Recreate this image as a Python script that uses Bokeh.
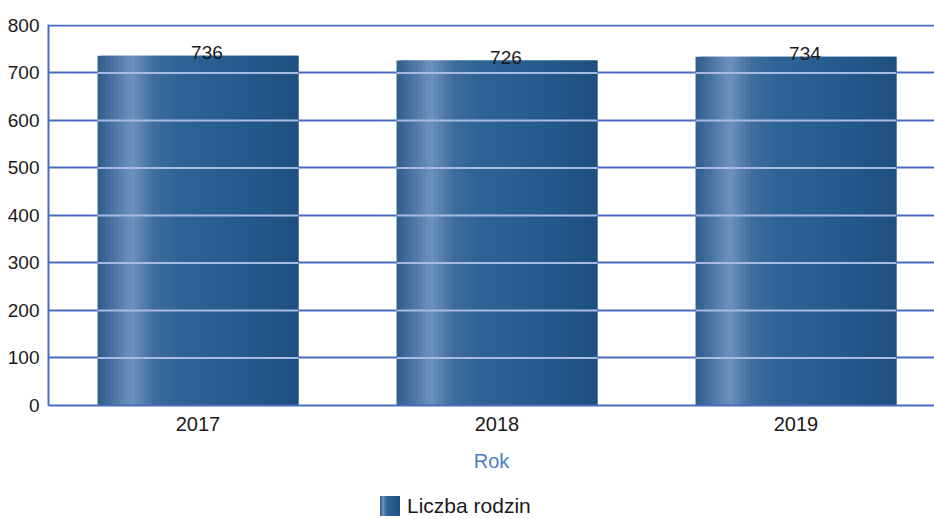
import numpy as np
from bokeh.plotting import figure
from bokeh.models import Range1d, FixedTicker, Div
from bokeh.layouts import column
from bokeh.core.properties import value
from bokeh.embed import file_html
from bokeh.resources import INLINE

years = [2017, 2018, 2019]
values = [736, 726, 734]
value_labels = ["736", "726", "734"]
y_ticks = [0, 100, 200, 300, 400, 500, 600, 700, 800]
x_tick_labels = {2017: "2017", 2018: "2018", 2019: "2019"}
series_name = "Liczba rodzin"
x_title = "Rok"

FONT = "Liberation Sans"
GRID_BLUE = "#4a6cc0"

p = figure(width=934, height=492, output_backend="svg", toolbar_location=None,
           x_range=Range1d(2016.5, 2016.5 + 886 / 299), y_range=Range1d(0, 802),
           min_border_left=48, min_border_right=0, min_border_top=24, min_border_bottom=87)
p.outline_line_color = None
p.background_fill_color = "white"
p.border_fill_color = "white"

p.xgrid.grid_line_color = None
p.ygrid.grid_line_color = GRID_BLUE
p.ygrid.grid_line_width = 2
p.ygrid.ticker = FixedTicker(ticks=y_ticks)

# gradient bars via strips
bar_w = 0.672
N = 48
stops_t = [0.0, 0.08, 0.17, 0.28, 0.4, 0.6, 0.8, 1.0]
stops_c = ["#2e5d8c", "#4b74a3", "#6e92bd", "#3f6d9e", "#2f6396", "#2a5d90", "#245789", "#1e4f80"]
def hex2rgb(h):
    return np.array([int(h[i:i+2], 16) for i in (1, 3, 5)], dtype=float)
rgb = np.array([hex2rgb(c) for c in stops_c])
strip_w = bar_w / N
for i in range(N):
    t = (i + 0.5) / N
    col = [np.interp(t, stops_t, rgb[:, k]) for k in range(3)]
    color = "#%02x%02x%02x" % tuple(int(round(c)) for c in col)
    left = -bar_w / 2 + i * strip_w
    right = min(left + strip_w * 2, bar_w / 2)
    p.vbar(x=[y + (left + right) / 2 for y in years], top=values, bottom=0,
           width=right - left, fill_color=color, line_color=None)

# light gridlines over bars
for tk in y_ticks[1:]:
    xs = [y for y, v in zip(years, values) if v > tk]
    if xs:
        p.segment(x0=[y - bar_w / 2 for y in xs], x1=[y + bar_w / 2 for y in xs],
                  y0=[tk] * len(xs), y1=[tk] * len(xs), line_color="#a9bbe2", line_width=2)

# value labels
p.text(x=[y + 0.03 for y in years], y=values, text=value_labels, text_align="center",
       text_baseline="bottom", y_offset=3, text_font_size="19px", text_color="#1a1a1a",
       text_font=value(FONT))

# axes
p.yaxis.ticker = FixedTicker(ticks=y_ticks)
p.yaxis.axis_line_color = GRID_BLUE
p.yaxis.axis_line_width = 2
p.yaxis.major_tick_line_color = None
p.yaxis.minor_tick_line_color = None
p.yaxis.major_label_standoff = 3
p.yaxis.major_label_text_font = FONT
p.yaxis.major_label_text_font_size = "19px"
p.yaxis.major_label_text_color = "#1a1a1a"

p.xaxis.ticker = FixedTicker(ticks=years)
p.xaxis.major_label_overrides = x_tick_labels
p.xaxis.axis_line_color = GRID_BLUE
p.xaxis.axis_line_width = 2
p.xaxis.major_tick_line_color = None
p.xaxis.minor_tick_line_color = None
p.xaxis.major_label_standoff = 5
p.xaxis.major_label_text_font = FONT
p.xaxis.major_label_text_font_size = "20px"
p.xaxis.major_label_text_color = "#1a1a1a"
p.xaxis.axis_label = x_title
p.xaxis.axis_label_text_font = FONT
p.xaxis.axis_label_text_font_style = "normal"
p.xaxis.axis_label_text_font_size = "20px"
p.xaxis.axis_label_text_color = "#4a7ec2"
p.xaxis.axis_label_standoff = 16

legend_html = (
    '<div style="display:flex;align-items:center;margin:3px 0 0 380px;padding:0;'
    'height:22px;line-height:22px;'
    'font-family:\'Liberation Sans\';font-size:21px;color:#1a1a1a;">'
    '<span style="display:inline-block;width:20px;height:20px;margin-right:7px;'
    'background:linear-gradient(90deg,#2e5d8c,#6e92bd 17%,#3f6d9e 28%,#2f6396 40%,#1e4f80);"></span>'
    + series_name + '</div>'
)
legend_div = Div(text=legend_html, width=934, height=27, margin=(0, 0, 0, 0))

layout = column(p, legend_div, spacing=0)
open("out.html", "w").write(file_html(layout, INLINE))
